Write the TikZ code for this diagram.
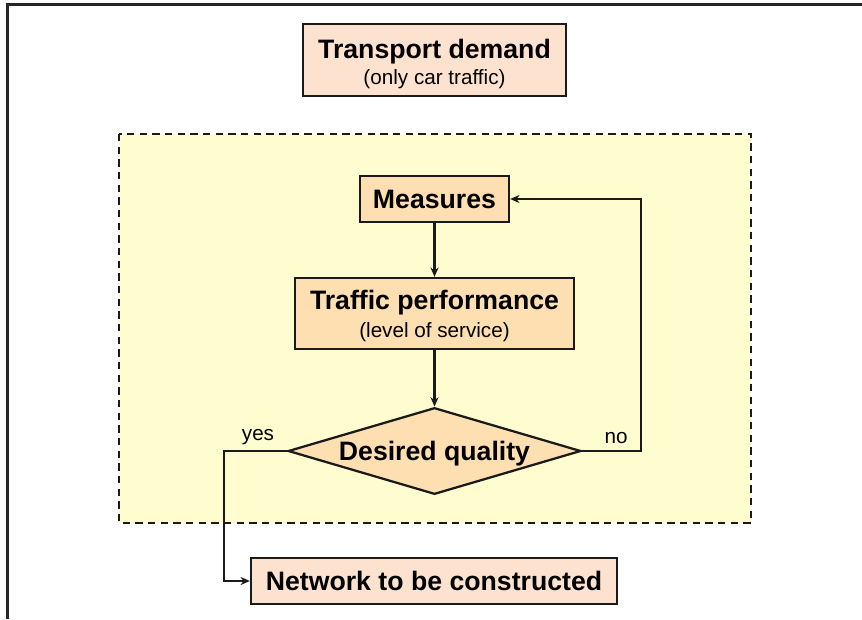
\documentclass[tikz,border=0pt]{standalone}
\usepackage{fontspec}
\setmainfont{Liberation Sans}
\usetikzlibrary{shapes.geometric,arrows.meta}
\definecolor{peach}{HTML}{FDE3CF}
\definecolor{apricot}{HTML}{FDDFB2}
\definecolor{paleyellow}{HTML}{FFFDCF}
\definecolor{ink}{HTML}{1A1A1A}
\newcommand{\headfont}{\fontsize{20}{23}\selectfont\bfseries}
\newcommand{\notefont}{\fontsize{15.5}{18}\selectfont}
\begin{document}
\begin{tikzpicture}[x=0.75pt,y=-0.75pt,
  box/.style={draw=ink,line width=1.7pt,inner sep=0pt,align=center},
  link/.style={draw=ink,line width=1.6pt,-{Stealth[length=7pt,width=6pt]}},
  tag/.style={font=\notefont,inner sep=0pt}]
\useasboundingbox (0,0) rectangle (862,619);
% slide frame
\draw[line width=1.8pt,draw=black!85] (7.5,619) -- (7.5,4.5) -- (862,4.5);
% planning area
\filldraw[fill=paleyellow,draw=ink,dash pattern=on 5.5pt off 4pt,line width=1.8pt]
  (119,134) rectangle (751,523);
% boxes
\node[box,fill=peach,minimum width=197.25pt,minimum height=54pt] (demand) at (434.5,60)
  {\rule{0pt}{20pt}\headfont Transport demand\\[3.25pt]\notefont (only car traffic)};
\node[box,fill=apricot,minimum width=111.75pt,minimum height=34.5pt] (meas) at (434.5,199)
  {\headfont Measures};
\node[box,fill=apricot,minimum width=209.25pt,minimum height=53.25pt] (perf) at (434.5,313.5)
  {\rule{0pt}{18.4pt}\headfont Traffic performance\\[4.75pt]\notefont (level of service)};
\node[box,diamond,aspect=3.38,fill=apricot,minimum width=215.25pt,minimum height=63.75pt] (qual) at (434.5,451)
  {\rule{0pt}{18.4pt}\headfont Desired quality};
\node[box,fill=peach,minimum width=274.5pt,minimum height=34.5pt] (net) at (434,581)
  {\headfont Network to be constructed};
% bends
\coordinate (ybend) at (224,451);
\coordinate (nbend) at (641,451);
% connectors
\draw[link] (meas) -- (perf);
\draw[link] (perf) -- (qual);
\draw[link] (qual.west) -- (ybend) |- (net.west);
\draw[link] (qual.east) -- (nbend) |- (meas.east);
% labels
\node[tag] (yes) at (258,437) {yes};
\node[tag] (no) at (616,438) {no};
\end{tikzpicture}
\end{document}
